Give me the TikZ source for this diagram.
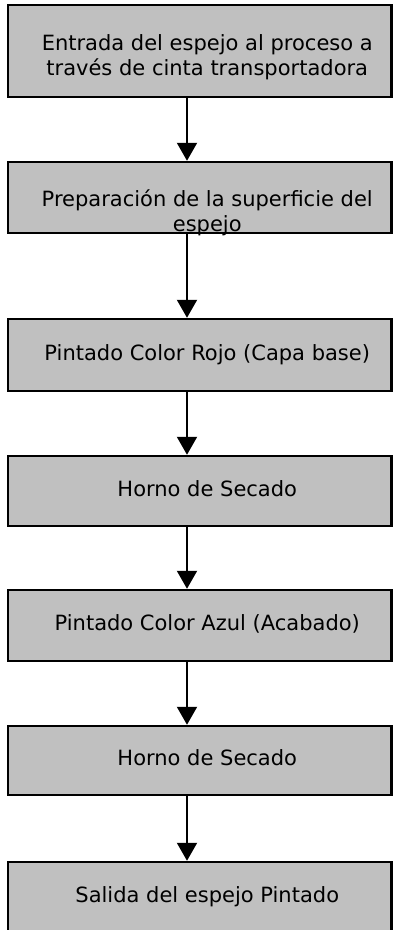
\documentclass[tikz,border=0pt]{standalone}
\usepackage{fontspec}
\setmainfont{DejaVu Sans}
\usepackage{tikz}
\usetikzlibrary{arrows.meta}
\definecolor{boxgray}{HTML}{C0C0C0}
\newcommand{\proctext}[1]{\hspace*{15pt}\begin{tabular}{@{}c@{}}#1\end{tabular}}

\begin{document}
\begin{tikzpicture}[x=1pt, y=-1pt]
\tikzset{proc/.style={draw, line width=2.5pt, fill=boxgray, rectangle, minimum width=383.5pt, minimum height=71pt, inner sep=0pt, font=\fontsize{21}{25}\selectfont},
 flow/.style={line width=2pt, -{Triangle[width=20pt, length=18pt]}}}
\useasboundingbox (0,0) rectangle (393,930);
 \node[proc, minimum height=92pt] (entrada) at (199.75,51) {\raisebox{-12pt}[0pt][0pt]{\proctext{Entrada del espejo al proceso a\\trav\'es de cinta transportadora}}};
 \node[proc] (prep) at (199.75,197.5) {\raisebox{-22pt}[0pt][0pt]{\proctext{Preparaci\'on de la superficie del\\espejo}}};
 \node[proc, minimum height=72pt] (rojo) at (199.75,355) {\proctext{Pintado Color Rojo (Capa base)}};
 \node[proc, minimum height=70pt] (horno1) at (199.75,491) {\proctext{Horno de Secado}};
 \node[proc] (azul) at (199.75,625.5) {\proctext{Pintado Color Azul (Acabado)}};
 \node[proc, minimum height=69pt] (horno2) at (199.75,760.5) {\proctext{Horno de Secado}};
 \node[proc] (salida) at (199.75,897.5) {\proctext{Salida del espejo Pintado}};
 \coordinate (ax) at (187,0);
 \foreach \a/\b in {entrada/prep, prep/rojo, rojo/horno1, horno1/azul, azul/horno2, horno2/salida}
  \draw[flow] (\a.south -| ax) -- (\b.north -| ax);
\end{tikzpicture}
\end{document}
